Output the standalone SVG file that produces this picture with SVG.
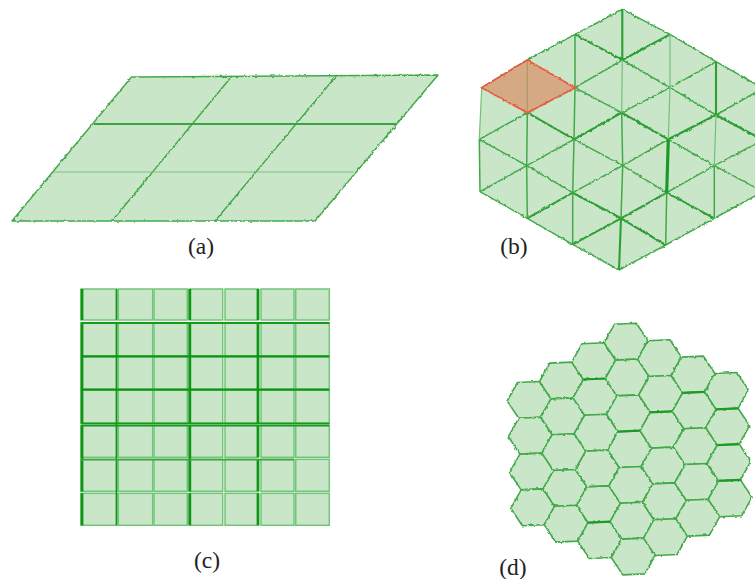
<svg xmlns="http://www.w3.org/2000/svg" width="755" height="579" viewBox="0 0 755 579">
<style>
.fill{fill:#c9e6c9;stroke:none}
.e{fill:none;stroke:#43a94a;stroke-width:1.5;stroke-linejoin:round}
.m{fill:none;stroke:#2f9f36;stroke-width:2.1;stroke-linejoin:round}
.t{fill:none;stroke:#1f9a26;stroke-width:3.2}
.thin{fill:none;stroke:#7cc281;stroke-width:1.1}
.cell{fill:#c9e6c9;stroke:#72c578;stroke-width:1.5}
.hex{fill:#c9e6c9;stroke:#43a94a;stroke-width:1.6;stroke-linejoin:round}
.lab{font-family:"Liberation Serif","Times New Roman",serif;font-size:23.5px;fill:#222;text-anchor:middle}
</style>
<defs>
<filter id="wob" filterUnits="userSpaceOnUse" x="0" y="0" width="755" height="579"><feTurbulence type="fractalNoise" baseFrequency="0.3" numOctaves="1" seed="4"/><feDisplacementMap in="SourceGraphic" scale="3" xChannelSelector="R" yChannelSelector="G"/><feGaussianBlur stdDeviation="0.3"/></filter>
<filter id="soft" filterUnits="userSpaceOnUse" x="0" y="0" width="755" height="579"><feGaussianBlur stdDeviation="0.35"/></filter>
<polygon id="h" class="hex" points="10.4,-18.4 21.9,-1 11.6,17.4 -10.4,18.4 -21.9,1 -11.6,-17.4"/>
</defs>
<rect width="755" height="579" fill="#fff"/>

<g id="panel-a">
<polygon class="fill" points="131.5,77 438,75 315,221 12,221"/>
<g filter="url(#wob)">
<path class="e" d="M131.5,77 438,75 315,221 12,221Z"/>
<path class="e" d="M232,76 112,221M337,75 215,221"/>
</g>
<path filter="url(#soft)" fill="none" stroke="#3aa340" stroke-width="2" d="M94,124H396"/>
<path class="thin" d="M52,172H354"/>
<text class="lab" x="201" y="254">(a)</text>
</g>

<g id="panel-b">
<polygon class="fill" points="481.7,87.7 527.3,60 575,34.3 622.3,9.3 670,34.3 716,61.7 763,88.3 763,191.7 714.3,218.3 665.7,245 619,270 572.7,244.3 527.3,218.3 480,191.7 479.3,139.3"/>
<g filter="url(#wob)">
<path class="e" d="M481.7,87.7 527.3,60 575,34.3 622.3,9.3 670,34.3 716,61.7 763,88.3M480,191.7 527.3,218.3 572.7,244.3 619,270 665.7,245 714.3,218.3 763,191.7"/>
<path class="e" d="M479.3,139.3 527.3,112.7M574,139.3 621.7,112.7M668.3,139.3 716,115M480,191.7 526.7,165.7 574,139.3M526.7,165.7 572.7,192.7 622.7,165.7 666.7,192.7 714.3,165.7 763,191.7M479.3,139.3 526.7,165.7M622.3,60 670,87.7 716,61.7M575,87.7 622.3,60M575,87.7 621.7,112.7 670,87.7 716,115 763,88.3M527.3,112.7 575,87.7M574,139.3 622.7,165.7 668.3,139.3 714.3,165.7 763,140"/>
<path class="m" d="M527.3,112.7 574,139.3 621.7,112.7 668.3,139.3 716,115 763,140M527.3,218.3 572.7,192.7 621,218.3 572.7,244.3M575,34.3 622.3,60 670,34.3M621,218.3 665.7,245M621,218.3 666.7,192.7 714.3,218.3"/>
</g>
<g filter="url(#soft)">
<path fill="none" stroke="#74c079" stroke-width="1.2" d="M481.7,87.7 479.3,139.3M622.3,60 621.7,112.7M670,34.3 670,87.7 668.3,139.3M716,115 714.3,165.7"/>
<path class="e" d="M479.3,139.3 480,191.7M527.3,60 527.3,112.7M575,34.3V87.7L574,139.3M527.3,112.7 526.7,165.7 527.3,218.3M574,139.3 572.7,192.7 572.7,244.3M621.7,112.7 622.7,165.7 621,218.3M666.7,192.7 665.7,245M714.3,165.7V218.3"/>
<path class="m" d="M622.3,9.3V60M716,61.7V115M621,218.3 619,270"/>
<path class="t" d="M668.3,139.3 666.7,192.7"/>
</g>
<polygon points="481.7,87.7 527.3,60 575,87.7 527.3,112.7" fill="#d6a985"/>
<path d="M527.3,60V112.7" stroke="#a89a62" stroke-width="1.2" fill="none"/>
<polygon filter="url(#wob)" points="481.7,87.7 527.3,60 575,87.7 527.3,112.7" fill="none" stroke="#ea5a3e" stroke-width="1.7"/>
<text class="lab" x="514" y="254">(b)</text>
</g>

<g id="panel-c">
<g filter="url(#soft)">
<rect class="cell" x="81" y="289" width="35.7" height="31"/><rect class="cell" x="118.3" y="289" width="34.4" height="31"/><rect class="cell" x="154" y="289" width="33.3" height="31"/><rect class="cell" x="189.3" y="289" width="33.4" height="31"/><rect class="cell" x="225" y="289" width="33.3" height="31"/><rect class="cell" x="261" y="289" width="33" height="31"/><rect class="cell" x="295.7" y="289" width="33.6" height="31"/>
<rect class="cell" x="81" y="322.7" width="35.7" height="33.3"/><rect class="cell" x="118.3" y="322.7" width="34.4" height="33.3"/><rect class="cell" x="154" y="322.7" width="33.3" height="33.3"/><rect class="cell" x="189.3" y="322.7" width="33.4" height="33.3"/><rect class="cell" x="225" y="322.7" width="33.3" height="33.3"/><rect class="cell" x="261" y="322.7" width="33" height="33.3"/><rect class="cell" x="295.7" y="322.7" width="33.6" height="33.3"/>
<rect class="cell" x="81" y="356.7" width="35.7" height="32.6"/><rect class="cell" x="118.3" y="356.7" width="34.4" height="32.6"/><rect class="cell" x="154" y="356.7" width="33.3" height="32.6"/><rect class="cell" x="189.3" y="356.7" width="33.4" height="32.6"/><rect class="cell" x="225" y="356.7" width="33.3" height="32.6"/><rect class="cell" x="261" y="356.7" width="33" height="32.6"/><rect class="cell" x="295.7" y="356.7" width="33.6" height="32.6"/>
<rect class="cell" x="81" y="390" width="35.7" height="33.3"/><rect class="cell" x="118.3" y="390" width="34.4" height="33.3"/><rect class="cell" x="154" y="390" width="33.3" height="33.3"/><rect class="cell" x="189.3" y="390" width="33.4" height="33.3"/><rect class="cell" x="225" y="390" width="33.3" height="33.3"/><rect class="cell" x="261" y="390" width="33" height="33.3"/><rect class="cell" x="295.7" y="390" width="33.6" height="33.3"/>
<rect class="cell" x="81" y="425.3" width="35.7" height="32"/><rect class="cell" x="118.3" y="425.3" width="34.4" height="32"/><rect class="cell" x="154" y="425.3" width="33.3" height="32"/><rect class="cell" x="189.3" y="425.3" width="33.4" height="32"/><rect class="cell" x="225" y="425.3" width="33.3" height="32"/><rect class="cell" x="261" y="425.3" width="33" height="32"/><rect class="cell" x="295.7" y="425.3" width="33.6" height="32"/>
<rect class="cell" x="81" y="459.3" width="35.7" height="32"/><rect class="cell" x="118.3" y="459.3" width="34.4" height="32"/><rect class="cell" x="154" y="459.3" width="33.3" height="32"/><rect class="cell" x="189.3" y="459.3" width="33.4" height="32"/><rect class="cell" x="225" y="459.3" width="33.3" height="32"/><rect class="cell" x="261" y="459.3" width="33" height="32"/><rect class="cell" x="295.7" y="459.3" width="33.6" height="32"/>
<rect class="cell" x="81" y="493.3" width="35.7" height="32"/><rect class="cell" x="118.3" y="493.3" width="34.4" height="32"/><rect class="cell" x="154" y="493.3" width="33.3" height="32"/><rect class="cell" x="189.3" y="493.3" width="33.4" height="32"/><rect class="cell" x="225" y="493.3" width="33.3" height="32"/><rect class="cell" x="261" y="493.3" width="33" height="32"/><rect class="cell" x="295.7" y="493.3" width="33.6" height="32"/>
<path fill="none" stroke="#109514" stroke-width="2.8" d="M82,289V320M82,322.7V423.5M82,425.3V491.5M82,493.3V525.3M189.8,289V320M189.8,322.7V423.5M189.8,425.3V491.5M189.8,493.3V525.3M258,289V320M258,322.7V423.5M258,425.3V457.3M258,459.3V491.3M258,493.3V525.3"/>
<path fill="none" stroke="#109514" stroke-width="1.7" d="M116.5,289V320M116.5,322.7V525.3"/>
<path fill="none" stroke="#109514" stroke-width="2.3" d="M81,356.4H329.3M81,389.6H329.3"/>
<path fill="none" stroke="#179a1e" stroke-width="1.8" d="M81,323H329.3M81,423.3H329.3M81,425.6H329.3"/>
<path fill="none" stroke="#3aa640" stroke-width="1.6" d="M81,459.6H294"/>
</g>
<text class="lab" x="207" y="568">(c)</text>
</g>

<g id="panel-d">
<g filter="url(#wob)">
<use href="#h" x="529.1" y="399.9"/><use href="#h" x="530.3" y="435.7"/><use href="#h" x="531.5" y="471.5"/><use href="#h" x="532.7" y="507.3"/>
<use href="#h" x="561.4" y="380.5"/><use href="#h" x="562.6" y="416.3"/><use href="#h" x="563.8" y="452.1"/><use href="#h" x="565" y="487.9"/><use href="#h" x="566.2" y="523.7"/>
<use href="#h" x="593.7" y="361.1"/><use href="#h" x="594.9" y="396.9"/><use href="#h" x="596.1" y="432.7"/><use href="#h" x="597.3" y="468.5"/><use href="#h" x="598.5" y="504.3"/><use href="#h" x="599.7" y="540.1"/>
<use href="#h" x="626" y="341.7"/><use href="#h" x="627.2" y="377.5"/><use href="#h" x="628.4" y="413.3"/><use href="#h" x="629.6" y="449.1"/><use href="#h" x="630.8" y="484.9"/><use href="#h" x="632" y="520.7"/><use href="#h" x="633.2" y="556.5"/>
<use href="#h" x="659.5" y="358.1"/><use href="#h" x="660.7" y="393.9"/><use href="#h" x="661.9" y="429.7"/><use href="#h" x="663.1" y="465.5"/><use href="#h" x="664.3" y="501.3"/><use href="#h" x="665.5" y="537.1"/>
<use href="#h" x="693" y="374.5"/><use href="#h" x="694.2" y="410.3"/><use href="#h" x="695.4" y="446.1"/><use href="#h" x="696.6" y="481.9"/><use href="#h" x="697.8" y="517.7"/>
<use href="#h" x="726.5" y="390.9"/><use href="#h" x="727.7" y="426.7"/><use href="#h" x="728.9" y="462.5"/><use href="#h" x="730.1" y="498.3"/>
</g>
<path fill="none" stroke="#1f9a26" stroke-width="2.2" filter="url(#soft)" d="M583.3,379.5 605.3,378.5M682.6,392.9 704.6,391.9M618,431.7 640,430.7M588.1,522.7 610.1,521.7M718.5,480.9 740.5,479.9M717.3,445.1 739.3,444.1M650.3,412.3 672.3,411.3M716.1,409.3 738.1,408.3"/>
<text class="lab" x="513" y="575">(d)</text>
</g>
</svg>
